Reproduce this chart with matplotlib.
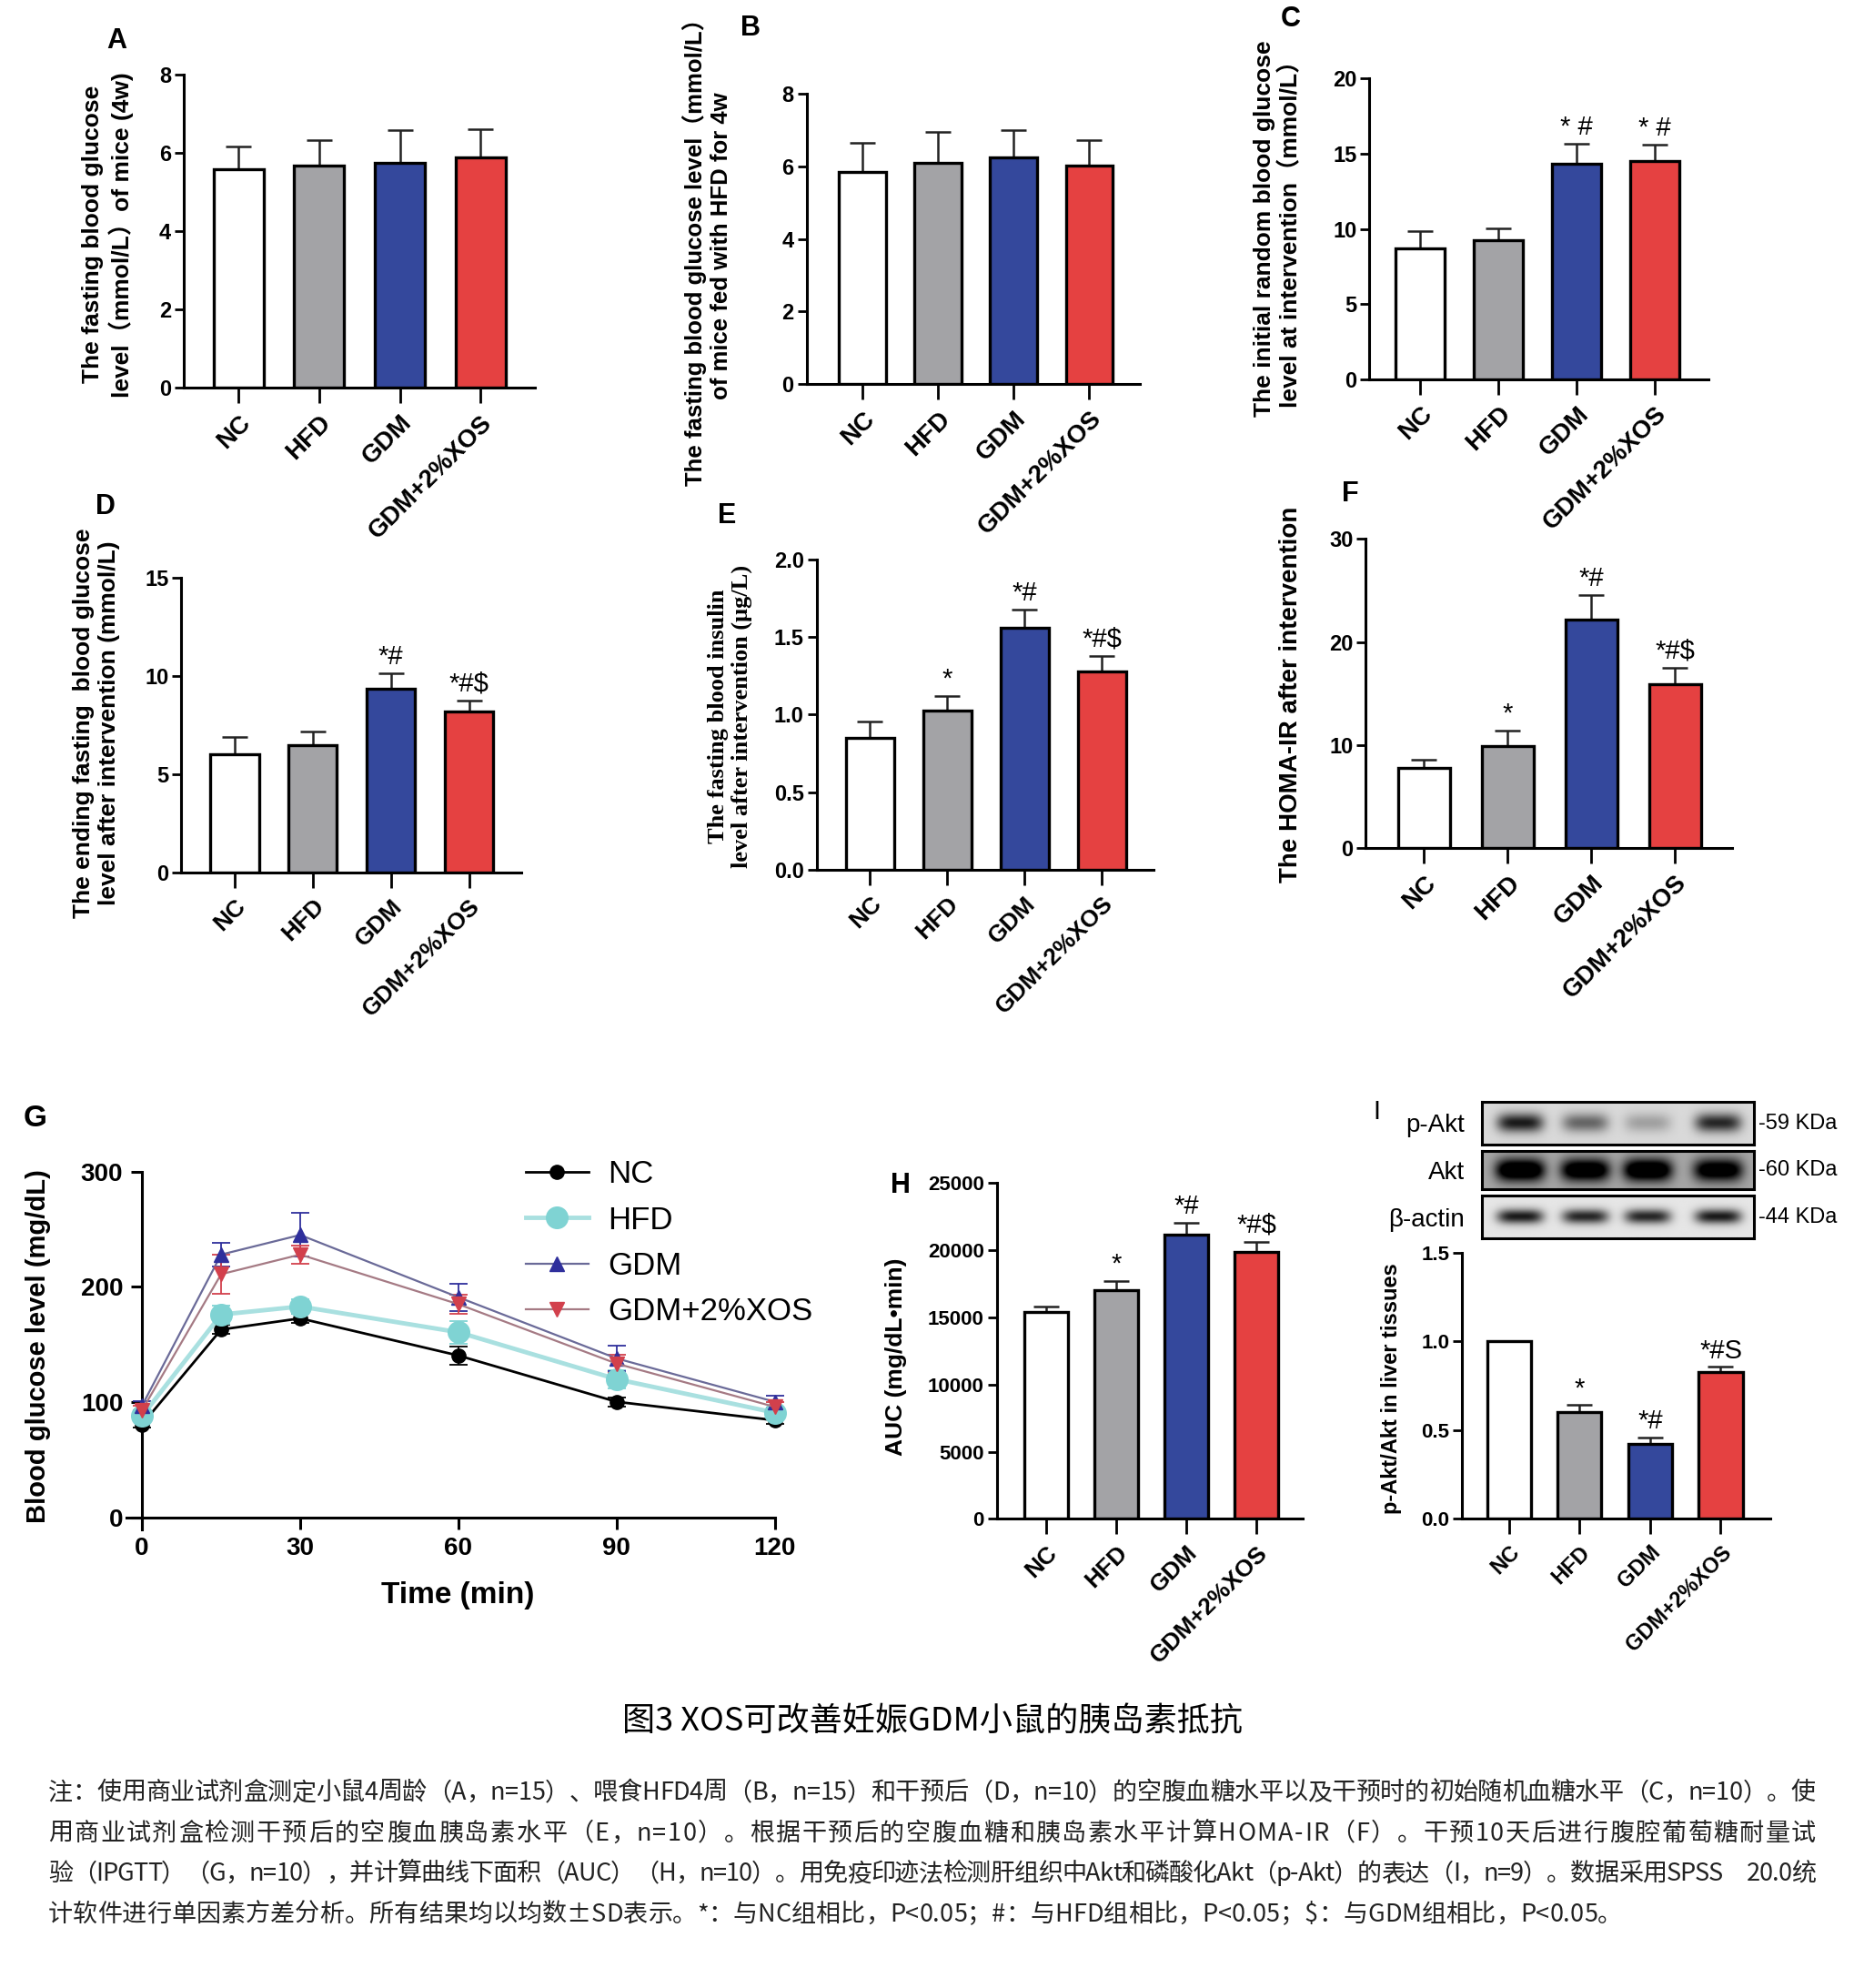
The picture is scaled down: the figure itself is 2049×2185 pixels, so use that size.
import numpy as np
import matplotlib
matplotlib.use('Agg')
import matplotlib.pyplot as plt
from matplotlib import font_manager
from matplotlib.ticker import FormatStrFormatter

# ---- data ----
groups = ['NC', 'HFD', 'GDM', 'GDM+2%XOS']
bar_colors = ['#ffffff', '#a3a3a6', '#34489c', '#e54141']

a_mean = [5.58, 5.67, 5.75, 5.89]
a_sd = [0.58, 0.66, 0.83, 0.73]
b_mean = [5.85, 6.09, 6.24, 6.03]
b_sd = [0.81, 0.86, 0.75, 0.69]
c_mean = [8.71, 9.23, 14.31, 14.51]
c_sd = [1.15, 0.82, 1.34, 1.08]
d_mean = [6.04, 6.47, 9.37, 8.19]
d_sd = [0.88, 0.70, 0.79, 0.58]
e_mean = [0.849, 1.025, 1.56, 1.277]
e_sd = [0.106, 0.095, 0.115, 0.101]
f_mean = [7.76, 9.94, 22.17, 15.94]
f_sd = [0.78, 1.47, 2.35, 1.57]
h_mean = [15370, 17000, 21140, 19890]
h_sd = [430, 710, 890, 710]
i_mean = [1.0, 0.603, 0.42, 0.825]
i_sd = [0.0, 0.039, 0.039, 0.033]

c_marks = ['', '', '* #', '* #']
d_marks = ['', '', '*#', '*#$']
e_marks = ['', '*', '*#', '*#$']
f_marks = ['', '*', '*#', '*#$']
h_marks = ['', '*', '*#', '*#$']
i_marks = ['', '*', '*#', '*#S']

g_time = [0, 15, 30, 60, 90, 120]
g_nc = [80.7, 163, 172.7, 140.5, 100.4, 84.4]
g_nc_sd = [3, 4, 4, 8, 4, 3]
g_hfd = [88, 176, 183, 160.7, 120, 91]
g_hfd_sd = [4, 8, 6, 10, 8, 4]
g_gdm = [97, 228, 245, 191, 138, 100.4]
g_gdm_sd = [4, 10, 19, 12, 11, 5]
g_xos = [93, 211, 228, 185, 133.5, 96]
g_xos_sd = [4, 17, 8, 8, 8, 4]

blot_rows = ['p-Akt', 'Akt', 'β-actin']
blot_kda = ['-59 KDa', '-60 KDa', '-44 KDa']
blot_pakt = [0.75, 0.45, 0.22, 0.7]
blot_akt = [0.95, 0.9, 0.95, 0.85]
blot_actin = [0.8, 0.75, 0.75, 0.8]

title = '图3 XOS可改善妊娠GDM小鼠的胰岛素抵抗'
note_lines = [
    '注：使用商业试剂盒测定小鼠4周龄（A，n=15）、喂食HFD4周（B，n=15）和干预后（D，n=10）的空腹血糖水平以及干预时的初始随机血糖水平（C，n=10）。使',
    '用商业试剂盒检测干预后的空腹血胰岛素水平（E，n=10）。根据干预后的空腹血糖和胰岛素水平计算HOMA-IR（F）。干预10天后进行腹腔葡萄糖耐量试',
    '验（IPGTT）（G，n=10），并计算曲线下面积（AUC）（H，n=10）。用免疫印迹法检测肝组织中Akt和磷酸化Akt（p-Akt）的表达（I，n=9）。数据采用SPSS　20.0统',
    '计软件进行单因素方差分析。所有结果均以均数±SD表示。*：与NC组相比，P<0.05；#：与HFD组相比，P<0.05；$：与GDM组相比，P<0.05。',
]

# ---- layout helpers (positions measured on a 1470 x 1568 grid) ----
W, H = 1470.0, 1568.0


def fx(x):
    return x / W


def fy(y):
    return 1 - y / H


names = {f.name for f in font_manager.fontManager.ttflist}
narrow = 'Liberation Sans Narrow' if 'Liberation Sans Narrow' in names else 'Liberation Sans'
cjk = ['Noto Sans CJK SC', 'DejaVu Sans']

plt.rcParams['font.family'] = ['Liberation Sans', 'Noto Sans CJK SC']
plt.rcParams['axes.linewidth'] = 2.2

fig = plt.figure(figsize=(20.49, 21.85), dpi=100)


def bar_panel(yaxis, c0, c3, right, ytop, ybot, ymax, step, means, sds,
              marks=None, fmt=None, tfont='Liberation Sans', tsize=17, xsize=19):
    s = (c3 - c0) / 3.0
    ax = fig.add_axes([fx(yaxis), fy(ybot), (right - yaxis) / W, (ybot - ytop) / H])
    x = np.arange(4)
    ax.bar(x, means, width=0.62, color=bar_colors, edgecolor='black',
           linewidth=2.4, zorder=3)
    ax.errorbar(x, means, yerr=[np.zeros(4), sds], fmt='none', ecolor='#222222',
                elinewidth=1.8, capsize=10, capthick=1.8, zorder=2)
    ax.set_xlim((yaxis - c0) / s, (right - c0) / s)
    ax.set_ylim(0, ymax)
    ax.spines['top'].set_visible(False)
    ax.spines['right'].set_visible(False)
    ax.set_yticks(np.arange(0, ymax + step / 2, step))
    if fmt:
        ax.yaxis.set_major_formatter(FormatStrFormatter(fmt))
    ax.set_xticks(x)
    ax.set_xticklabels(groups, rotation=45, ha='right', rotation_mode='anchor',
                       fontsize=xsize, fontweight='bold')
    ax.tick_params(axis='y', length=7, width=2, labelsize=tsize, pad=3)
    ax.tick_params(axis='x', length=12, width=2, pad=6)
    for t in ax.get_yticklabels():
        t.set_fontweight('bold')
        t.set_family(tfont)
    if marks:
        for xi, m, mu, sd in zip(x, marks, means, sds):
            if m:
                ax.text(xi, mu + sd + ymax * 0.012, m, ha='center', va='bottom',
                        fontsize=21, family=narrow)
    return ax


def label(x, y, txt, size=20, **kw):
    fig.text(fx(x), fy(y), txt, fontsize=size, fontweight='bold', ha='center',
             va='center', **kw)


# A
bar_panel(145, 188, 379, 422, 59, 306, 8, 2, a_mean, a_sd, xsize=20)
label(92, 32, 'A', 22)
label(85, 185, 'The fasting blood glucose\nlevel（mmol/L）of mice (4w)', 19, rotation=90,
      linespacing=1.2)

# B
bar_panel(636, 680, 859, 899, 74, 303, 8, 2, b_mean, b_sd, xsize=20)
label(592, 22, 'B', 22)
label(558, 194, 'The fasting blood glucose level（mmol/L）\nof mice fed with HFD for 4w', 18.5,
      rotation=90, linespacing=1.2)

# C
bar_panel(1080, 1120, 1305, 1347, 62, 299, 20, 5, c_mean, c_sd, c_marks, xsize=20)
label(1018, 15, 'C', 22)
label(1008, 180, 'The initial random blood glucose\nlevel at intervention（mmol/L）', 19,
      rotation=90, linespacing=1.2)

# D
bar_panel(143, 185, 370, 411, 456, 688, 15, 5, d_mean, d_sd, d_marks)
label(83, 400, 'D', 22)
label(76, 570, 'The ending fasting  blood glucose\nlevel after intervention (mmol/L)', 19,
      rotation=90, linespacing=1.2)

# E
bar_panel(644, 686, 869, 910, 441, 686, 2.0, 0.5, e_mean, e_sd, e_marks, fmt='%.1f')
label(573, 407, 'E', 22)
label(576, 565, 'The fasting blood insulin\nlevel after intervention (μg/L)', 19,
      rotation=90, linespacing=1.15, family='Liberation Serif')

# F
bar_panel(1077, 1123, 1321, 1366, 425, 669, 30, 10, f_mean, f_sd, f_marks, xsize=20)
label(1065, 390, 'F', 22)
label(1018, 548, 'The HOMA-IR after intervention', 20, rotation=90)

# G: IPGTT curves
gx0, gx1, gy300, gy0 = 112, 611, 924, 1197
ppm = (gx1 - gx0) / 120.0
ppu = (gy0 - gy300) / 300.0
axg = fig.add_axes([fx(gx0 - 3 * ppm), fy(gy0 + 10 * ppu),
                    (gx1 - gx0 + 3 * ppm) / W, (310 * ppu) / H])
axg.set_xlim(-3, 120)
axg.set_ylim(-10, 300)
axg.spines['left'].set_position(('data', 0))
axg.spines['bottom'].set_position(('data', 0))
axg.spines['top'].set_visible(False)
axg.spines['right'].set_visible(False)
series = [
    ('NC', g_nc, g_nc_sd, 'black', 'black', 'o', 11, 2.0),
    ('HFD', g_hfd, g_hfd_sd, '#7fd3d3', '#a9e0e0', 'o', 17, 3.5),
    ('GDM', g_gdm, g_gdm_sd, '#2f2f9c', '#6a6a98', '^', 11, 1.6),
    ('GDM+2%XOS', g_xos, g_xos_sd, '#d2404c', '#a57a84', 'v', 11, 1.6),
]
handles = []
for name, vals, sd, mc, lc, mk, ms, lw in series:
    axg.errorbar(g_time, vals, yerr=sd, fmt='none', ecolor=mc, elinewidth=1.3,
                 capsize=7, capthick=1.3, zorder=2, clip_on=False)
    ln, = axg.plot(g_time, vals, color=lc, lw=lw, marker=mk, markersize=ms,
                   markerfacecolor=mc, markeredgecolor=mc, zorder=3, clip_on=False,
                   label=name)
    handles.append(ln)
axg.set_xticks([0, 30, 60, 90, 120])
axg.set_yticks([0, 100, 200, 300])
axg.tick_params(length=9, width=2.2, labelsize=20, pad=6)
for t in axg.get_xticklabels() + axg.get_yticklabels():
    t.set_fontweight('bold')
label(361, 1258, 'Time (min)', 24)
label(30, 1062, 'Blood glucose level (mg/dL)', 21, rotation=90)
label(28, 882, 'G', 24)
fig.legend(handles=handles, loc='upper left', bbox_to_anchor=(fx(392), fy(892)),
           frameon=False, fontsize=25, handlelength=2.0, labelspacing=0.5,
           handletextpad=0.6)

# H
bar_panel(786, 825, 991, 1027, 933, 1198, 25000, 5000, h_mean, h_sd, h_marks,
          tfont=narrow, tsize=16, xsize=19)
label(710, 935, 'H', 22)
label(707, 1070, 'AUC (mg/dL•min)', 19, rotation=90)

# I: quantification
bar_panel(1153, 1190, 1357, 1396, 988, 1198, 1.5, 0.5, i_mean, i_sd, i_marks, fmt='%.1f',
          tfont=narrow, tsize=16, xsize=17)
label(1097, 1095, 'p-Akt/Akt in liver tissues', 17, rotation=90)
fig.text(fx(1086), fy(877), 'I', fontsize=21, ha='center', va='center', family=narrow)

# I: western blot strips
row_y = [(869, 903), (908, 938), (943, 977)]
row_int = [blot_pakt, blot_akt, blot_actin]
row_bg = [0.15, 0.35, 0.1]
row_bh = [0.22, 0.3, 0.17]
row_bw = [0.085, 0.09, 0.085]
centers = [0.14, 0.38, 0.61, 0.87]
bx0, bx1 = 1169, 1383
xs = np.linspace(0, 1, 320)
ys = np.linspace(0, 1, 50)
for (y0, y1), ints, bg, bh, bw, nm, kda in zip(row_y, row_int, row_bg, row_bh, row_bw,
                                                  blot_rows, blot_kda):
    axb = fig.add_axes([fx(bx0), fy(y1), (bx1 - bx0) / W, (y1 - y0) / H])
    img = np.full((ys.size, xs.size), bg)
    for c, a in zip(centers, ints):
        img += a * np.exp(-((xs[None, :] - c) / bw) ** 4) * np.exp(-((ys[:, None] - 0.5) / bh) ** 2)
    axb.imshow(1 - np.clip(img, 0, 1), cmap='gray', vmin=0, vmax=1, aspect='auto',
               extent=[0, 1, 0, 1], interpolation='bilinear')
    axb.set_xticks([])
    axb.set_yticks([])
    for sp in axb.spines.values():
        sp.set_linewidth(2.2)
    ym = (y0 + y1) / 2
    fig.text(fx(1155), fy(ym + 2), nm, fontsize=20, ha='right', va='center', family=narrow)
    fig.text(fx(1387), fy(ym), kda, fontsize=17, ha='left', va='center', family=narrow)

# ---- caption ----
fig.text(0.5, fy(1358), title, fontsize=26, ha='center', va='center', family=cjk)

renderer = fig.canvas.get_renderer()
wcache = {}


def char_w(ch, size):
    if ch not in wcache:
        t = fig.text(0, 0, ch, fontsize=size, family=cjk)
        wcache[ch] = t.get_window_extent(renderer).width
        t.remove()
    return wcache[ch]


note_size = 19.5
fig_w_px = fig.get_figwidth() * fig.dpi
x_left, x_right = 38 / W * fig_w_px, 1432 / W * fig_w_px
line_y = [1412, 1444, 1476, 1508]
for k, (line, yc) in enumerate(zip(note_lines, line_y)):
    ws = [char_w(ch, note_size) for ch in line]
    if k < len(note_lines) - 1:
        extra = (x_right - x_left - sum(ws)) / (len(line) - 1)
    else:
        extra = 0.0
    cur = x_left
    for ch, w in zip(line, ws):
        fig.text(cur / fig_w_px, fy(yc + 7.5), ch, fontsize=note_size, family=cjk,
                 ha='left', va='baseline', color='#222222')
        cur += w + extra

fig.savefig('out.png', dpi=100)
